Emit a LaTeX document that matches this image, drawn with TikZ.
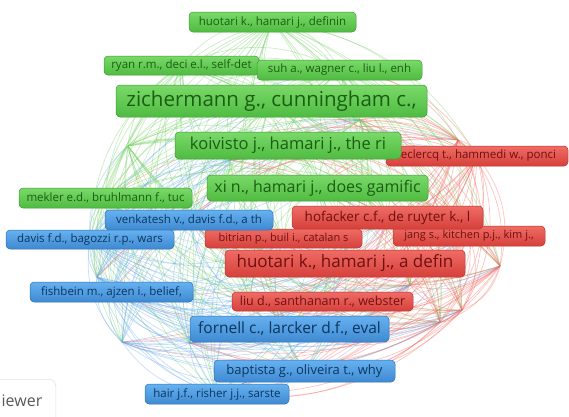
\documentclass[tikz,border=0pt]{standalone}
\usepackage{fontspec}
\setmainfont{Open Sans}
\usetikzlibrary{backgrounds}

\definecolor{gtop}{HTML}{7AD969}
\definecolor{gbot}{HTML}{4FBB41}
\definecolor{gline}{HTML}{3F9A33}
\definecolor{gtext}{HTML}{1A5E12}
\definecolor{rtop}{HTML}{EF6C65}
\definecolor{rbot}{HTML}{D6403B}
\definecolor{rline}{HTML}{B83430}
\definecolor{rtext}{HTML}{701010}
\definecolor{btop}{HTML}{66B1F0}
\definecolor{bbot}{HTML}{3F89D1}
\definecolor{bline}{HTML}{2F70B0}
\definecolor{btext}{HTML}{0B365F}
\definecolor{gedge}{HTML}{72D062}
\definecolor{redge}{HTML}{F4665E}
\definecolor{bedge}{HTML}{68AAEC}

\begin{document}
\begin{tikzpicture}[x=1pt,y=-1pt]
	\tikzstyle{lbl} = [rounded corners=4pt, inner sep=0pt, line width=0.5pt]
	\tikzstyle{gn} = [lbl, draw=gline, top color=gtop, bottom color=gbot, text=gtext]
	\tikzstyle{rn} = [lbl, draw=rline, top color=rtop, bottom color=rbot, text=rtext]
	\tikzstyle{bn} = [lbl, draw=bline, top color=btop, bottom color=bbot, text=btext]
	\tikzstyle{link} = [line width=0.7pt, draw opacity=0.38]
	\tikzset{fs/.style={font=\fontsize{#1}{#1}\selectfont}}
	\useasboundingbox (0,0) rectangle (569,416);
	\node[rn, minimum width=182pt, minimum height=20pt, fs=11.5] (v1) at (477,156) {leclercq t., hammedi w., ponci};
	\node[rn, minimum width=152pt, minimum height=20pt, fs=11] (v2) at (469,236) {jang s., kitchen p.j., kim j.,};
	\node[gn, minimum width=155pt, minimum height=19pt, fs=11.5] (v3) at (181.5,65.5) {ryan r.m., deci e.l., self-det};
	\node[gn, minimum width=165pt, minimum height=20pt, fs=11.5] (v4) at (339.5,70) {suh a., wagner c., liu l., enh};
	\node[gn, minimum width=167pt, minimum height=20pt, fs=11.5] (v5) at (272.5,22) {huotari k., hamari j., definin};
	\node[gn, minimum width=311pt, minimum height=32pt, fs=20.5] (v6) at (271.5,101) {zichermann g., cunningham c.,};
	\node[gn, minimum width=226pt, minimum height=27pt, fs=16.5] (v7) at (288,145.5) {koivisto j., hamari j., the ri};
	\node[gn, minimum width=221pt, minimum height=26pt, fs=16] (v8) at (317.5,188) {xi n., hamari j., does gamific};
	\node[gn, minimum width=173pt, minimum height=20pt, fs=11.5] (v9) at (105.5,198) {mekler e.d., bruhlmann f., tuc};
	\node[rn, minimum width=191pt, minimum height=23pt, fs=13.5] (v10) at (387.5,217.5) {hofacker c.f., de ruyter k., l};
	\node[rn, minimum width=157pt, minimum height=19pt, fs=11] (v11) at (283.5,238.5) {bitrian p., buil i., catalan s};
	\node[rn, minimum width=240pt, minimum height=27pt, fs=17] (v12) at (345,263.5) {huotari k., hamari j., a defin};
	\node[rn, minimum width=181pt, minimum height=19pt, fs=12.5] (v13) at (322.5,301.5) {liu d., santhanam r., webster};
	\node[bn, minimum width=168pt, minimum height=20pt, fs=11.5] (v14) at (189,220) {venkatesh v., davis f.d., a th};
	\node[bn, minimum width=168pt, minimum height=19pt, fs=11.5] (v15) at (90,239.5) {davis f.d., bagozzi r.p., wars};
	\node[bn, minimum width=163pt, minimum height=20pt, fs=11.5] (v16) at (111.5,292) {fishbein m., ajzen i., belief,};
	\node[bn, minimum width=199pt, minimum height=26pt, fs=15.5] (v17) at (289.5,329) {fornell c., larcker d.f., eval};
	\node[bn, minimum width=181pt, minimum height=22pt, fs=13] (v18) at (304.5,371) {baptista g., oliveira t., why};
	\node[bn, minimum width=144pt, minimum height=20pt, fs=11.5] (v19) at (217,394) {hair j.f., risher j.j., sarste};
	\coordinate (v20) at (128,146);
	\coordinate (v21) at (458,140);
	\coordinate (v22) at (500,266);
	\coordinate (v23) at (462,310);
	\coordinate (v24) at (440,322);
	\coordinate (v25) at (122,342);
	\coordinate (v26) at (190,343);
	\coordinate (v27) at (97,277);
	\coordinate (v28) at (230,160);
	\coordinate (v29) at (410,285);
	\coordinate (v30) at (250,300);
	\coordinate (v31) at (360,120);
	\node[lbl, draw=black!12, fill=white, rounded corners=7pt, minimum width=90pt, minimum height=50pt, anchor=north east] (v32) at (56,379) {};
	\node[anchor=east, inner sep=0pt, text=black!65, fs=16] (v33) at (42.5,401) {iewer};
	\def\netlist{v1/477/156/redge, v2/469/236/redge, v3/181/65/gedge, v4/339/70/gedge, v5/272/22/gedge, v6/271/101/gedge, v7/288/145/gedge, v8/317/188/gedge, v9/105/198/gedge, v10/387/217/redge, v11/283/238/redge, v12/345/263/redge, v13/322/301/redge, v14/189/220/bedge, v15/90/239/bedge, v16/111/292/bedge, v17/289/329/bedge, v18/304/371/bedge, v19/217/394/bedge, v20/128/146/gedge, v21/458/140/redge, v22/500/266/redge, v23/462/310/redge, v24/440/322/redge, v25/122/342/bedge, v26/190/343/bedge, v27/97/277/bedge, v28/230/160/gedge, v29/410/285/redge, v30/250/300/bedge, v31/360/120/gedge}
	\begin{scope}[on background layer]
		\foreach \a/\ax/\ay/\ca [count=\i] in \netlist {
			\foreach \b/\bx/\by/\cb [count=\j] in \netlist {
				\ifnum\j>\i
					\pgfmathsetmacro\bnd{((\bx-\ax)/100)*((220-\ay)/100)-((\by-\ay)/100)*((300-\ax)/100)>0 ? 26 : -26}
					\pgfmathtruncatemacro\pick{((\ax-300)/100)^2+((\ay-270)/100)^2 >= ((\bx-300)/100)^2+((\by-270)/100)^2 ? 0 : 1}
					\ifnum\pick=0 \def\ec{\ca}\else\def\ec{\cb}\fi
					\draw[link, draw=\ec] (\a.center) to[bend left=\bnd] (\b.center);
				\fi
			}
		}
	\end{scope}
\end{tikzpicture}
\end{document}
